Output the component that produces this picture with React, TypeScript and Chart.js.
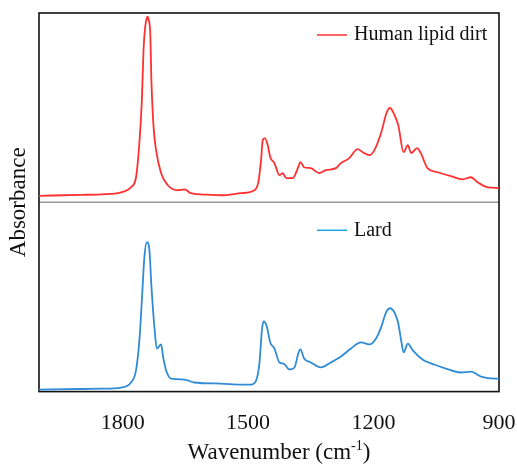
import React, { useEffect, useRef } from "react";
import { Chart, registerables } from "chart.js";

Chart.register(...registerables);

// Human lipid dirt spectrum (wavenumber, cm-1) and absorbance (a.u.)
const dirtWavenumbers = [
  2000, 1900, 1852, 1804, 1780, 1768, 1760, 1754, 1750, 1746, 1742, 1740, 1738, 1734, 1731, 1726, 1720, 1708, 1692, 1668,
  1652, 1637, 1597, 1565, 1517, 1485, 1476, 1469, 1465, 1460, 1453, 1447, 1437, 1425, 1417, 1409, 1393, 1381, 1375, 1366,
  1350, 1330, 1314, 1290, 1278, 1258, 1238, 1226, 1210, 1198, 1182, 1169, 1161, 1152, 1141, 1128, 1118, 1110, 1096, 1087,
  1071, 1047, 1015, 987, 967, 951, 927, 900,
];
const dirtAbsorbance = [
  0.035, 0.04, 0.043, 0.054, 0.081, 0.135, 0.319, 0.551, 0.822, 0.946, 0.995, 1.0, 0.984, 0.914, 0.643, 0.405, 0.281, 0.157, 0.092, 0.065,
  0.07, 0.049, 0.041, 0.038, 0.049, 0.065, 0.103, 0.227, 0.335, 0.346, 0.308, 0.243, 0.211, 0.146, 0.157, 0.13, 0.13, 0.184, 0.216, 0.189,
  0.184, 0.157, 0.173, 0.184, 0.211, 0.238, 0.286, 0.27, 0.254, 0.281, 0.373, 0.481, 0.508, 0.481, 0.416, 0.27, 0.308, 0.265, 0.292, 0.265,
  0.184, 0.162, 0.141, 0.124, 0.135, 0.108, 0.081, 0.078,
];

// Lard spectrum
const lardWavenumbers = [
  2000, 1900, 1852, 1804, 1780, 1768, 1760, 1754, 1748, 1742, 1736, 1731, 1724, 1718, 1708, 1703, 1696, 1684, 1652, 1629,
  1565, 1517, 1493, 1481, 1473, 1467, 1463, 1456, 1447, 1437, 1425, 1415, 1401, 1389, 1380, 1375, 1366, 1350, 1326, 1302,
  1278, 1254, 1230, 1210, 1194, 1182, 1170, 1161, 1149, 1141, 1134, 1128, 1118, 1106, 1083, 1055, 1027, 991, 967, 943,
  911, 900,
];
const lardAbsorbance = [
  0.011, 0.014, 0.016, 0.022, 0.049, 0.114, 0.276, 0.492, 0.724, 0.805, 0.762, 0.562, 0.346, 0.232, 0.254, 0.184, 0.114, 0.07, 0.065, 0.049,
  0.043, 0.038, 0.038, 0.059, 0.151, 0.33, 0.378, 0.357, 0.265, 0.232, 0.157, 0.151, 0.119, 0.13, 0.205, 0.227, 0.178, 0.157, 0.13, 0.157,
  0.189, 0.232, 0.265, 0.254, 0.286, 0.346, 0.427, 0.449, 0.422, 0.368, 0.276, 0.211, 0.259, 0.222, 0.173, 0.146, 0.124, 0.103, 0.108, 0.081,
  0.07, 0.07,
];

const xTicks = [1800, 1500, 1200, 900];
const seriesLabels = ["Human lipid dirt", "Lard"];
const xTitle = "Wavenumber (cm";
const xTitleSup = "-1";
const yTitle = "Absorbance";

const SERIF = "'Liberation Serif', 'Times New Roman', serif";
const RED = "#ff3030";
const BLUE = "#2f8bd6";
const BLUE_LEGEND = "#1fa6e6";

const decorPlugin = {
  id: "decor",
  beforeDatasetsDraw(chart: any) {
    const { ctx, chartArea } = chart;
    const top = chart.scales.yTop;
    ctx.save();
    ctx.strokeStyle = "#9a9a9a";
    ctx.lineWidth = 1.5;
    ctx.beginPath();
    ctx.moveTo(chartArea.left, top.bottom);
    ctx.lineTo(chartArea.right, top.bottom);
    ctx.stroke();
    ctx.strokeStyle = "#111";
    ctx.lineWidth = 1.6;
    ctx.strokeRect(chartArea.left, chartArea.top, chartArea.right - chartArea.left, chartArea.bottom - chartArea.top);
    ctx.restore();
  },
  afterDraw(chart: any) {
    const { ctx, chartArea } = chart;
    const top = chart.scales.yTop;
    const bottom = chart.scales.yBottom;
    ctx.save();
    const legends = [
      { label: seriesLabels[0], color: RED, y: top.top + 22 },
      { label: seriesLabels[1], color: BLUE_LEGEND, y: bottom.top + 28 },
    ];
    ctx.font = `20px ${SERIF}`;
    ctx.textBaseline = "middle";
    ctx.textAlign = "left";
    for (const l of legends) {
      ctx.strokeStyle = l.color;
      ctx.lineWidth = 1.5;
      ctx.beginPath();
      ctx.moveTo(317, l.y);
      ctx.lineTo(347, l.y);
      ctx.stroke();
      ctx.fillStyle = "#111";
      ctx.fillText(l.label, 354, l.y);
    }
    ctx.save();
    ctx.translate(19, (chartArea.top + chartArea.bottom) / 2);
    ctx.rotate(-Math.PI / 2);
    ctx.textAlign = "center";
    ctx.textBaseline = "middle";
    ctx.font = `23px ${SERIF}`;
    ctx.fillStyle = "#111";
    ctx.fillText(yTitle, 0, 0);
    ctx.restore();
    const mainFont = `23px ${SERIF}`;
    const supFont = `14px ${SERIF}`;
    ctx.font = mainFont;
    const w1 = ctx.measureText(xTitle).width;
    const w3 = ctx.measureText(")").width;
    ctx.font = supFont;
    const w2 = ctx.measureText(xTitleSup).width;
    const total = w1 + w2 + w3;
    let x = 279 - total / 2;
    const base = 459;
    ctx.textAlign = "left";
    ctx.textBaseline = "alphabetic";
    ctx.fillStyle = "#111";
    ctx.font = mainFont;
    ctx.fillText(xTitle, x, base);
    x += w1;
    ctx.font = supFont;
    ctx.fillText(xTitleSup, x, base - 9);
    x += w2;
    ctx.font = mainFont;
    ctx.fillText(")", x, base);
    ctx.restore();
  },
};

export default function App() {
  const ref = useRef<HTMLCanvasElement>(null);
  useEffect(() => {
    if (!ref.current) return;
    const dirt = dirtWavenumbers.map((x, i) => ({ x, y: dirtAbsorbance[i] }));
    const lard = lardWavenumbers.map((x, i) => ({ x, y: lardAbsorbance[i] }));
    const chart = new Chart(ref.current, {
      type: "line",
      data: {
        datasets: [
          {
            label: seriesLabels[0],
            data: dirt,
            yAxisID: "yTop",
            borderColor: RED,
            borderWidth: 1.8,
            pointRadius: 0,
            tension: 0.3,
            cubicInterpolationMode: "monotone",
          },
          {
            label: seriesLabels[1],
            data: lard,
            yAxisID: "yBottom",
            borderColor: BLUE,
            borderWidth: 1.8,
            pointRadius: 0,
            tension: 0.3,
            cubicInterpolationMode: "monotone",
          },
        ],
      },
      options: {
        responsive: false,
        animation: false,
        devicePixelRatio: 1,
        layout: { padding: { left: 39, right: 18, top: 13, bottom: 13 } },
        plugins: { legend: { display: false }, tooltip: { enabled: false } },
        scales: {
          x: {
            type: "linear",
            reverse: true,
            min: 900,
            max: 2000,
            afterBuildTicks: (axis: any) => {
              axis.ticks = xTicks.map((v) => ({ value: v }));
            },
            afterFit: (axis: any) => {
              axis.paddingLeft = 0;
              axis.paddingRight = 0;
            },
            grid: { display: false, drawTicks: false },
            border: { display: false },
            ticks: {
              padding: 18,
              color: "#111",
              font: { family: SERIF, size: 22 },
              maxRotation: 0,
              autoSkip: false,
              callback: (v: any) => String(v),
            },
          },
          yBottom: {
            type: "linear",
            display: false,
            position: "left",
            stack: "panels",
            stackWeight: 1,
            min: 0,
            max: 1.02,
          },
          yTop: {
            type: "linear",
            display: false,
            position: "left",
            stack: "panels",
            stackWeight: 1,
            min: 0,
            max: 1.02,
          },
        },
      } as any,
      plugins: [decorPlugin],
    });
    return () => chart.destroy();
  }, []);
  return (
    <div style={{ position: "fixed", left: 0, top: 0, width: 517, height: 467, background: "#fff" }}>
      <canvas ref={ref} width={517} height={467} style={{ display: "block" }} />
    </div>
  );
}
